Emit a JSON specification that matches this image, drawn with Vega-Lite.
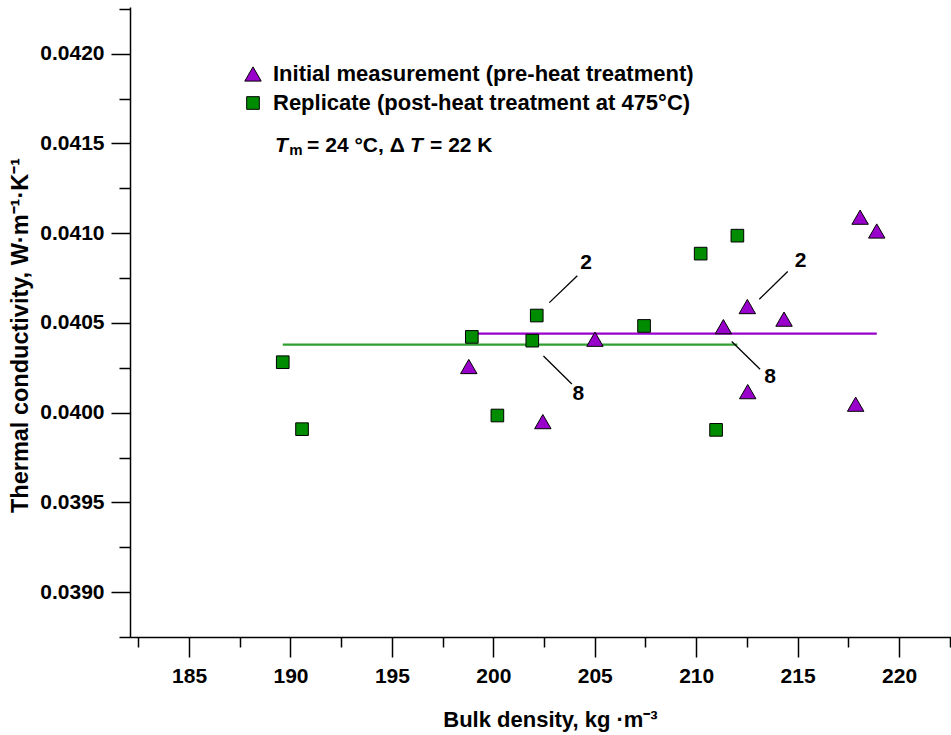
{
  "$schema": "https://vega.github.io/schema/vega-lite/v6.json",
  "width": 821,
  "height": 630,
  "autosize": "none",
  "padding": {"left": 130, "top": 7, "right": 0, "bottom": 98},
  "background": "white",
  "config": {
    "view": {"stroke": null},
    "font": "Liberation Sans",
    "axis": {"grid": false, "domainColor": "black", "tickColor": "black", "domainWidth": 1.5, "tickWidth": 1.5, "labelColor": "black", "titleColor": "black"},
    "legend": {"symbolStrokeColor": "black", "symbolStrokeWidth": 1}
  },
  "datasets": {
    "points": [
      {"series": "Initial measurement (pre-heat treatment)", "density": 198.79, "k": 0.040257},
      {"series": "Initial measurement (pre-heat treatment)", "density": 202.44, "k": 0.03995},
      {"series": "Initial measurement (pre-heat treatment)", "density": 205.01, "k": 0.040409},
      {"series": "Initial measurement (pre-heat treatment)", "density": 211.34, "k": 0.040479},
      {"series": "Initial measurement (pre-heat treatment)", "density": 212.52, "k": 0.040591},
      {"series": "Initial measurement (pre-heat treatment)", "density": 214.33, "k": 0.040521},
      {"series": "Initial measurement (pre-heat treatment)", "density": 212.54, "k": 0.040117},
      {"series": "Initial measurement (pre-heat treatment)", "density": 217.86, "k": 0.040047},
      {"series": "Initial measurement (pre-heat treatment)", "density": 218.08, "k": 0.041089},
      {"series": "Initial measurement (pre-heat treatment)", "density": 218.90, "k": 0.041012},
      {"series": "Replicate (post-heat treatment at 475°C)", "density": 189.62, "k": 0.040281},
      {"series": "Replicate (post-heat treatment at 475°C)", "density": 190.57, "k": 0.039908},
      {"series": "Replicate (post-heat treatment at 475°C)", "density": 198.94, "k": 0.040422},
      {"series": "Replicate (post-heat treatment at 475°C)", "density": 202.14, "k": 0.040541},
      {"series": "Replicate (post-heat treatment at 475°C)", "density": 201.92, "k": 0.040401},
      {"series": "Replicate (post-heat treatment at 475°C)", "density": 200.20, "k": 0.039984},
      {"series": "Replicate (post-heat treatment at 475°C)", "density": 207.43, "k": 0.040483},
      {"series": "Replicate (post-heat treatment at 475°C)", "density": 210.22, "k": 0.040886},
      {"series": "Replicate (post-heat treatment at 475°C)", "density": 212.03, "k": 0.040986},
      {"series": "Replicate (post-heat treatment at 475°C)", "density": 210.98, "k": 0.039904}
    ],
    "means": [
      {"series": "Initial measurement (pre-heat treatment)", "x1": 198.79, "x2": 218.90, "mean": 0.04044},
      {"series": "Replicate (post-heat treatment at 475°C)", "x1": 189.62, "x2": 212.03, "mean": 0.040379}
    ],
    "leaders": [
      {"x1": 202.76, "y1": 0.040613, "x2": 204.14, "y2": 0.040763},
      {"x1": 202.47, "y1": 0.040316, "x2": 203.87, "y2": 0.04016},
      {"x1": 213.11, "y1": 0.040632, "x2": 214.51, "y2": 0.040786},
      {"x1": 211.75, "y1": 0.040396, "x2": 213.15, "y2": 0.040242}
    ],
    "labels": [
      {"label": "2", "x": 204.57, "y": 0.040834},
      {"label": "8", "x": 204.19, "y": 0.040102},
      {"label": "2", "x": 215.15, "y": 0.040845},
      {"label": "8", "x": 213.64, "y": 0.040199}
    ],
    "condPlain": [
      {"text": "= 24 °C, Δ", "x": 190.82, "y": 0.041454},
      {"text": "= 22 K", "x": 196.88, "y": 0.041454}
    ],
    "condItalic": [
      {"text": "T", "x": 189.24, "y": 0.041454},
      {"text": "T", "x": 195.89, "y": 0.041454}
    ],
    "condSub": [
      {"text": "m", "x": 189.94, "y": 0.041436}
    ]
  },
  "resolve": {"axis": {"x": "independent", "y": "independent"}},
  "layer": [
    {
      "data": {"name": "means"},
      "mark": {"type": "rule", "strokeWidth": 2.2},
      "encoding": {
        "x": {"field": "x1", "type": "quantitative", "scale": {"domain": [182.09, 222.56], "nice": false, "zero": false},
          "axis": {"orient": "bottom", "values": [182.5, 187.5, 192.5, 197.5, 202.5, 207.5, 212.5, 217.5, 222.5], "labels": false, "domain": false, "tickSize": 10, "title": null}},
        "x2": {"field": "x2"},
        "y": {"field": "mean", "type": "quantitative", "scale": {"domain": [0.03875, 0.04226], "nice": false, "zero": false},
          "axis": {"orient": "left", "values": [0.03875, 0.03925, 0.03975, 0.04025, 0.04075, 0.04125, 0.04175, 0.04225], "labels": false, "domain": false, "tickSize": 11, "title": null}},
        "stroke": {"condition": {"test": "datum.series === 'Initial measurement (pre-heat treatment)'", "value": "#9900cc"}, "value": "#2f9f2f"}
      }
    },
    {
      "data": {"name": "points"},
      "mark": {"type": "point", "filled": true, "opacity": 1, "strokeWidth": 1},
      "encoding": {
        "x": {"field": "density", "type": "quantitative", "scale": {"domain": [182.09, 222.56], "nice": false, "zero": false},
          "axis": {"orient": "bottom", "values": [185, 190, 195, 200, 205, 210, 215, 220], "tickSize": 20, "labelFontSize": 21, "labelFontWeight": "bold", "labelBaseline": "alphabetic", "labelPadding": 25.5,
            "title": "Bulk density, kg ·m⁻³", "titleFontSize": 22, "titleFontWeight": "bold", "titleBaseline": "alphabetic", "titleY": 89, "titleX": 420}},
        "y": {"field": "k", "type": "quantitative", "scale": {"domain": [0.03875, 0.04226], "nice": false, "zero": false},
          "axis": {"orient": "left", "values": [0.039, 0.0395, 0.04, 0.0405, 0.041, 0.0415, 0.042], "format": ".4f", "tickSize": 19, "labelPadding": 7, "labelFontSize": 21, "labelFontWeight": "bold",
            "title": "Thermal conductivity, W·m⁻¹·K⁻¹", "titleFontSize": 23.5, "titleFontWeight": "bold", "titleBaseline": "alphabetic", "titleAngle": 270, "titleX": -103, "titleY": 328}},
        "fill": {"field": "series", "type": "nominal", "scale": {"domain": ["Initial measurement (pre-heat treatment)", "Replicate (post-heat treatment at 475°C)"], "range": ["#9900cc", "#008c00"]},
          "legend": {"title": null, "orient": "none", "legendX": 112, "legendY": 56, "labelFontSize": 22, "labelFontWeight": "bold", "labelColor": "black", "labelLimit": 1000, "labelOffset": 9, "rowPadding": 7}},
        "shape": {"field": "series", "type": "nominal", "scale": {"domain": ["Initial measurement (pre-heat treatment)", "Replicate (post-heat treatment at 475°C)"], "range": ["triangle-up", "square"]},
          "legend": {"title": null, "orient": "none", "legendX": 112, "legendY": 56, "labelFontSize": 22, "labelFontWeight": "bold", "labelColor": "black", "labelLimit": 1000, "labelOffset": 9, "rowPadding": 7}},
        "stroke": {"field": "series", "type": "nominal", "scale": {"domain": ["Initial measurement (pre-heat treatment)", "Replicate (post-heat treatment at 475°C)"], "range": ["black", "black"]},
          "legend": {"title": null, "orient": "none", "legendX": 112, "legendY": 56, "labelFontSize": 22, "labelFontWeight": "bold", "labelColor": "black", "labelLimit": 1000, "labelOffset": 9, "rowPadding": 7}},
        "size": {"field": "series", "type": "nominal", "scale": {"domain": ["Initial measurement (pre-heat treatment)", "Replicate (post-heat treatment at 475°C)"], "range": [270, 160]},
          "legend": {"title": null, "orient": "none", "legendX": 112, "legendY": 56, "labelFontSize": 22, "labelFontWeight": "bold", "labelColor": "black", "labelLimit": 1000, "labelOffset": 9, "rowPadding": 7}}
      }
    },
    {
      "data": {"name": "leaders"},
      "mark": {"type": "rule", "stroke": "black", "strokeWidth": 1.3},
      "encoding": {
        "x": {"field": "x1", "type": "quantitative", "axis": null},
        "y": {"field": "y1", "type": "quantitative", "axis": null},
        "x2": {"field": "x2"},
        "y2": {"field": "y2"}
      }
    },
    {
      "data": {"name": "labels"},
      "mark": {"type": "text", "fontSize": 21, "fontWeight": "bold", "align": "center", "baseline": "middle", "color": "black"},
      "encoding": {
        "x": {"field": "x", "type": "quantitative", "axis": null},
        "y": {"field": "y", "type": "quantitative", "axis": null},
        "text": {"field": "label"}
      }
    },
    {
      "data": {"name": "condPlain"},
      "mark": {"type": "text", "fontSize": 21, "fontWeight": "bold", "align": "left", "baseline": "alphabetic", "color": "black"},
      "encoding": {
        "x": {"field": "x", "type": "quantitative", "axis": null},
        "y": {"field": "y", "type": "quantitative", "axis": null},
        "text": {"field": "text"}
      }
    },
    {
      "data": {"name": "condItalic"},
      "mark": {"type": "text", "fontSize": 21, "fontWeight": "bold", "fontStyle": "italic", "align": "left", "baseline": "alphabetic", "color": "black"},
      "encoding": {
        "x": {"field": "x", "type": "quantitative", "axis": null},
        "y": {"field": "y", "type": "quantitative", "axis": null},
        "text": {"field": "text"}
      }
    },
    {
      "data": {"name": "condSub"},
      "mark": {"type": "text", "fontSize": 15, "fontWeight": "bold", "align": "left", "baseline": "alphabetic", "color": "black"},
      "encoding": {
        "x": {"field": "x", "type": "quantitative", "axis": null},
        "y": {"field": "y", "type": "quantitative", "axis": null},
        "text": {"field": "text"}
      }
    }
  ]
}
